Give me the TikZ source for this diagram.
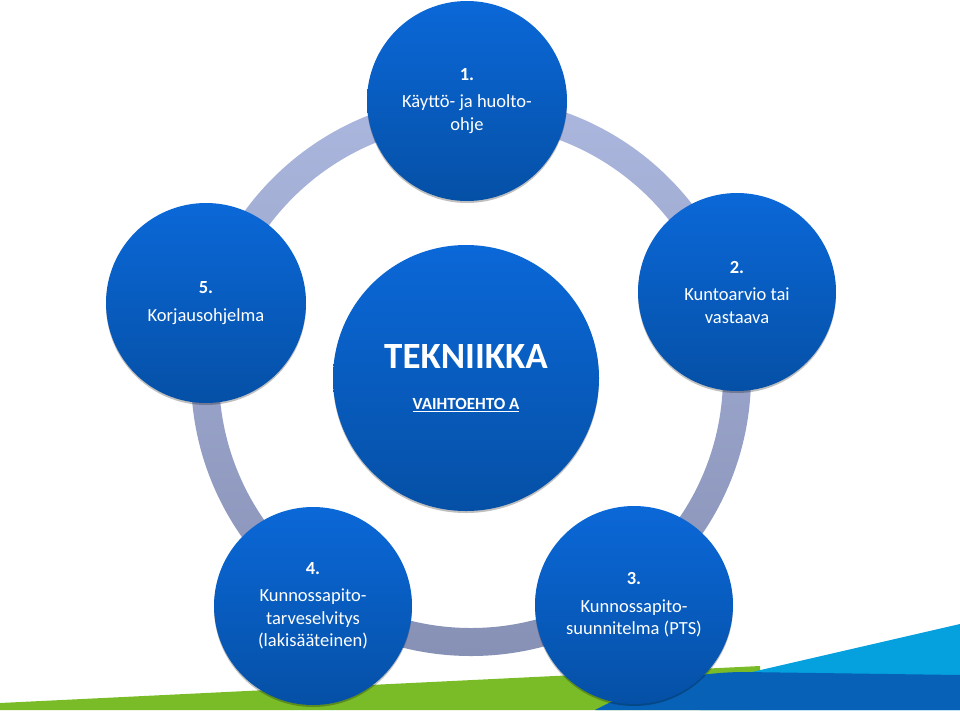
\documentclass[tikz,border=0pt]{standalone}
\usepackage{fontspec}
\setmainfont{Carlito}
\usepackage{tikz}
\usetikzlibrary{
  shadows, calc
}
\usepackage{xcolor}
\definecolor{discTop}{HTML}{0B68D8}
\definecolor{discBot}{HTML}{0550A6}
\definecolor{ringTop}{HTML}{ABB7DE}
\definecolor{ringBot}{HTML}{8790B5}
\definecolor{leafGreen}{HTML}{7ABC27}
\definecolor{skyBlue}{HTML}{05A0DE}
\definecolor{deepBlue}{HTML}{0761B6}

\begin{document}
\begin{tikzpicture}[x=1pt, y=-1pt,
    disc/.style={circle, minimum size=#1, inner sep=0pt,
          top color=discTop, bottom color=discBot, text=white,
          align=center, font=\fontsize{18.5}{22.5}\selectfont,
          drop shadow={shadow xshift=0pt, shadow yshift=-2pt,
                       opacity=0.25, fill=black}},
    disc/.default=198pt]
    \useasboundingbox (0,0) rectangle (960,710);

    % bottom stripes
    \fill[leafGreen] (0,703) -- (760,666) -- (760,710) -- (0,710) -- cycle;
    \fill[skyBlue] (700,684) -- (960,624) -- (960,710) -- (700,710) -- cycle;
    \fill[deepBlue] (595,710) .. controls (640,686) and (690,672) .. (745,672)
          -- (960,675) -- (960,710) -- cycle;

    % ring behind the steps
    \coordinate (mid) at (471,376);
    \shade[top color=ringTop, bottom color=ringBot, even odd rule]
          (mid) circle[radius=280] (mid) circle[radius=252];

    \node[disc=266pt] (hub) at (466,378) {%
      {\fontsize{37}{40}\selectfont\bfseries TEKNIIKKA}\\[19pt]
      {\fontsize{17}{20}\selectfont\bfseries\underline{VAIHTOEHTO A}}};

    \node[disc=200pt] (s1) at (467,101) {{\bfseries 1.}\\[5pt]
      Käyttö- ja huolto-\\ohje};
    \node[disc] (s2) at (737,292) {{\bfseries 2.}\\[5pt]
      Kuntoarvio tai\\vastaava};
    \node[disc] (s3) at (634,605) {{\bfseries 3.}\\[5pt]
      Kunnossapito-\\suunnitelma (PTS)};
    \node[disc] (s4) at (313,606) {{\bfseries 4.}\\[5pt]
      Kunnossapito-\\tarveselvitys\\(lakisääteinen)};
    \node[disc=200pt] (s5) at (206,303) {{\bfseries 5.}\\[5pt]
      Korjausohjelma};
\end{tikzpicture}
\end{document}
